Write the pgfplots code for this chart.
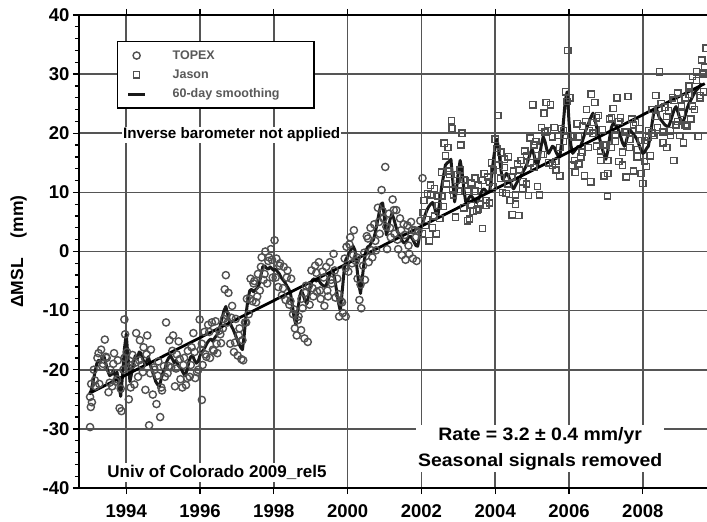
\documentclass[border=0pt]{standalone}
\usepackage{pgfplots}
\pgfplotsset{compat=1.18}
\usepackage{fontspec}
\setmainfont{Liberation Sans}

\definecolor{markgray}{HTML}{505050}
\definecolor{gridgray}{HTML}{555555}

\begin{document}
\begin{tikzpicture}
\begin{axis}[
    name=ax,
    scale only axis,
    width=628pt, height=473pt,
    xmin=1992.72, xmax=2009.74,
    ymin=-40, ymax=40,
    xtick={1994,1996,...,2008},
    ytick={-40,-30,...,40},
    minor x tick num=3,
    minor y tick num=4,
    axis x line*=box,
    axis y line*=left,
    tick align=outside,
    major tick length=6pt,
    minor tick length=4pt,
    tick style={black, line width=1.3pt},
    axis line style={line width=1.8pt},
    grid=major,
    grid style={draw=gridgray, line width=1.7pt},
    /pgf/number format/assume math mode=true,
    /pgf/number format/set thousands separator={},
    tick label style={font=\fontsize{18.5}{20}\selectfont\bfseries},
    xticklabel style={yshift=-7pt},
    ylabel={\bfseries ΔMSL\hspace{20pt}(mm)},
    ylabel style={font=\fontsize{17.5}{19}\selectfont, yshift=9pt},
    legend style={
        at={(0.06,0.946)}, anchor=north west,
        draw=black, line width=1.8pt, fill=white,
        font=\fontsize{12.5}{14}\selectfont\bfseries\color{black!65},
        row sep=5pt, inner xsep=9pt, inner ysep=7pt,
        /tikz/every odd column/.append style={column sep=24pt},
    },
    legend cell align=left,
]

% TOPEX
\addplot[only marks, mark=o, mark size=3.6pt,
    mark options={draw=markgray, line width=1.4pt}]
coordinates {
(1993.02,-24.6) (1993.04,-26.3) (1993.02,-29.7) (1993.07,-25.5) (1993.12,-20.0)
(1993.17,-22.8) (1993.22,-18.0) (1993.27,-22.4) (1993.32,-16.6) (1993.37,-19.0)
(1993.42,-14.9) (1993.47,-18.0) (1993.52,-23.8) (1993.57,-20.0) (1993.62,-22.8)
(1993.67,-17.2) (1993.72,-22.0) (1993.77,-18.4) (1993.82,-26.5) (1993.87,-27.0)
(1993.92,-20.0) (1993.95,-11.5) (1993.97,-14.0) (1994.02,-17.0) (1994.07,-25.0)
(1994.12,-23.0) (1994.17,-17.5) (1994.22,-22.5) (1994.27,-13.8) (1994.32,-21.2)
(1994.37,-15.0) (1994.42,-19.2) (1994.47,-16.2) (1994.52,-23.4) (1994.57,-14.2)
(1994.62,-29.4) (1994.67,-16.6) (1994.72,-24.2) (1994.77,-20.0) (1994.82,-25.8)
(1994.87,-18.6) (1994.92,-28.0) (1994.97,-23.5) (1995.02,-19.4) (1995.08,-12.0)
(1995.12,-20.6) (1995.17,-15.0) (1995.22,-19.6) (1995.27,-14.2) (1995.32,-22.8)
(1995.37,-17.4) (1995.42,-15.2) (1995.47,-21.6) (1995.52,-23.0) (1995.57,-18.0)
(1995.62,-22.6) (1995.67,-16.8) (1995.72,-21.2) (1995.77,-16.2) (1995.82,-13.8)
(1995.87,-21.4) (1995.92,-20.4) (1995.99,-11.5) (1996.02,-16.6) (1996.05,-25.1)
(1996.07,-19.2) (1996.12,-13.6) (1996.17,-17.8) (1996.22,-12.4) (1996.27,-18.0)
(1996.32,-12.0) (1996.37,-16.8) (1996.42,-11.8) (1996.47,-17.2) (1996.52,-13.4)
(1996.57,-15.5) (1996.62,-13.0) (1996.67,-6.4) (1996.70,-4.0) (1996.72,-10.8)
(1996.77,-7.0) (1996.82,-15.6) (1996.87,-9.2) (1996.92,-17.0) (1996.97,-11.4)
(1997.02,-17.6) (1997.07,-13.0) (1997.12,-18.2) (1997.17,-18.4) (1997.22,-12.0)
(1997.27,-8.0) (1997.32,-10.6) (1997.37,-4.6) (1997.42,-8.4) (1997.47,-5.0)
(1997.52,-8.6) (1997.57,-3.8) (1997.62,-6.6) (1997.67,-1.0) (1997.72,-4.8)
(1997.77,0.0) (1997.82,-5.4) (1997.87,-1.0) (1997.92,0.4) (1997.97,-4.4)
(1998.02,1.9) (1998.07,-1.2) (1998.12,-6.0) (1998.17,-2.0) (1998.22,-7.4)
(1998.27,-2.6) (1998.32,-8.2) (1998.37,-3.2) (1998.42,-9.0) (1998.47,-4.6)
(1998.52,-10.6) (1998.57,-13.0) (1998.62,-14.2) (1998.67,-11.0) (1998.74,-13.3)
(1998.78,-9.6) (1998.83,-14.7) (1998.87,-5.8) (1998.92,-15.3) (1998.97,-9.0)
(1999.02,-3.2) (1999.07,-7.6) (1999.12,-2.4) (1999.17,-6.8) (1999.22,-1.8)
(1999.27,-8.0) (1999.32,-3.4) (1999.37,-9.2) (1999.42,-2.6) (1999.47,-7.6)
(1999.52,-1.8) (1999.57,-5.4) (1999.62,-0.4) (1999.67,-7.8) (1999.72,-4.6)
(1999.77,-11.0) (1999.82,-8.4) (1999.87,-10.4) (1999.92,-1.2) (1999.95,-11.0)
(1999.97,0.8) (2000.02,-3.4) (2000.07,2.4) (2000.12,-2.0) (2000.17,3.6)
(2000.22,-1.6) (2000.27,-4.6) (2000.32,-8.2) (2000.37,-9.6) (2000.42,-2.4)
(2000.47,-4.8) (2000.52,2.6) (2000.57,-1.8) (2000.62,4.0) (2000.67,-1.0)
(2000.72,4.6) (2000.77,0.2) (2000.82,7.4) (2000.87,3.0) (2000.92,10.4)
(2001.02,14.3) (2000.97,5.6) (2001.07,0.4) (2001.12,6.4) (2001.17,2.4)
(2001.22,8.8) (2001.27,3.0) (2001.32,7.0) (2001.37,0.4) (2001.42,5.6)
(2001.47,-0.6) (2001.52,4.6) (2001.57,-1.4) (2001.62,4.4) (2001.67,-0.4)
(2001.72,5.0) (2001.77,-1.2) (2001.82,3.6) (2001.87,-1.6) (2001.92,3.4)
(2001.97,5.2) (2002.03,12.4)
(1993.05,-22.4) (1993.15,-21.8) (1993.25,-17.2) (1993.35,-19.4) (1993.45,-17.8)
(1993.55,-22.2) (1993.65,-19.0) (1993.75,-21.6) (1993.85,-23.2) (1993.95,-18.0)
(1994.05,-19.6) (1994.15,-19.2) (1994.25,-18.8) (1994.35,-18.4) (1994.45,-20.4)
(1994.55,-17.4) (1994.65,-20.6) (1994.75,-19.6) (1994.85,-21.0) (1994.95,-23.0)
(1995.05,-21.2) (1995.15,-19.4) (1995.25,-16.8) (1995.35,-19.8) (1995.45,-18.2)
(1995.55,-19.2) (1995.65,-21.4) (1995.75,-19.2) (1995.85,-17.0) (1995.95,-20.0)
(1996.05,-15.6) (1996.15,-17.4) (1996.25,-13.6) (1996.35,-16.6) (1996.45,-15.6)
(1996.55,-14.0) (1996.65,-11.4) (1996.75,-12.0) (1996.85,-11.2) (1996.95,-15.4)
(1997.05,-14.2) (1997.15,-15.0) (1997.25,-12.0) (1997.35,-8.0) (1997.45,-5.4)
(1997.55,-7.6) (1997.65,-2.6) (1997.75,-3.8) (1997.85,-1.6) (1997.95,-1.4)
(1998.05,-4.4) (1998.15,-2.4) (1998.25,-6.2) (1998.35,-4.4) (1998.45,-8.4)
(1998.55,-9.8) (1998.65,-11.6) (1998.75,-8.0) (1998.85,-7.0) (1998.95,-5.8)
(1999.05,-6.2) (1999.15,-3.6) (1999.25,-6.6) (1999.35,-4.4) (1999.45,-6.6)
(1999.55,-4.8) (1999.65,-3.2) (1999.75,-7.2) (1999.85,-8.6) (1999.95,-2.8)
(2000.05,1.2) (2000.15,-0.6) (2000.25,-1.0) (2000.35,-5.6) (2000.45,-0.2)
(2000.55,2.2) (2000.65,0.2) (2000.75,1.8) (2000.85,5.0) (2000.95,6.8)
(2001.05,4.2) (2001.15,4.0) (2001.25,7.0) (2001.35,2.0) (2001.45,3.6)
(2001.55,2.8) (2001.65,1.0) (2001.75,3.6) (2001.85,2.4)
};
\addlegendentry{\makebox[130pt][l]{TOPEX}}

% Jason
\addplot[only marks, mark=square, mark size=3.1pt,
    mark options={draw=markgray, line width=1.4pt}]
coordinates {
(2002.02,3.0) (2002.07,8.6) (2002.12,4.4) (2002.17,9.8) (2002.21,1.8)
(2002.25,11.2) (2002.30,4.0) (2002.35,10.6) (2002.40,3.0) (2002.45,9.4)
(2002.50,5.6) (2002.55,13.4) (2002.60,7.6) (2002.62,18.3) (2002.67,11.4)
(2002.72,17.6) (2002.77,13.0) (2002.81,22.1) (2002.83,20.8) (2002.87,9.6)
(2002.92,5.8) (2002.97,13.0) (2003.02,10.2) (2003.07,18.0) (2003.10,20.0)
(2003.15,7.4) (2003.20,12.0) (2003.25,5.2) (2003.30,5.5) (2003.35,11.6)
(2003.40,6.8) (2003.45,12.4) (2003.50,7.0) (2003.55,11.2) (2003.60,8.0)
(2003.66,3.9) (2003.70,13.2) (2003.75,7.8) (2003.80,12.6) (2003.85,8.2)
(2003.90,15.0) (2003.95,11.0) (2004.00,19.0) (2004.07,23.0) (2004.10,14.6)
(2004.15,16.8) (2004.20,10.0) (2004.25,15.6) (2004.30,9.8) (2004.35,16.0)
(2004.40,8.6) (2004.46,6.2) (2004.50,13.6) (2004.55,8.0) (2004.60,14.8)
(2004.64,6.1) (2004.70,15.4) (2004.75,10.6) (2004.80,17.0) (2004.85,11.4)
(2004.90,9.5) (2004.95,19.2) (2005.02,24.8) (2005.05,14.2) (2005.10,18.6)
(2005.15,11.0) (2005.20,9.6) (2005.25,21.0) (2005.30,16.4) (2005.32,23.4)
(2005.38,25.2) (2005.42,20.4) (2005.50,24.8) (2005.55,14.6) (2005.60,21.0)
(2005.65,13.8) (2005.70,19.6) (2005.75,12.8) (2005.80,20.8) (2005.85,18.6)
(2005.90,27.0) (2005.97,34.0) (2006.02,26.0) (2006.07,14.6) (2006.12,19.4)
(2006.17,13.4) (2006.22,21.6) (2006.27,14.8) (2006.32,16.0) (2006.37,21.2)
(2006.42,12.8) (2006.47,24.0) (2006.52,17.6) (2006.59,11.8) (2006.60,26.6)
(2006.65,20.0) (2006.70,25.2) (2006.75,17.8) (2006.80,23.0) (2006.85,15.4)
(2006.90,20.6) (2006.95,12.8) (2007.04,9.4) (2007.00,18.0) (2007.05,13.2)
(2007.10,22.4) (2007.15,17.6) (2007.20,24.2) (2007.25,18.6) (2007.30,26.0)
(2007.35,15.2) (2007.40,22.6) (2007.45,14.6) (2007.50,20.2) (2007.55,12.6)
(2007.60,26.2) (2007.65,17.6) (2007.70,22.4) (2007.75,13.6) (2007.80,21.8)
(2007.85,16.0) (2007.90,20.8) (2007.95,13.2) (2008.00,11.5) (2008.05,18.8)
(2008.10,14.4) (2008.15,20.4) (2008.20,16.2) (2008.25,24.0) (2008.30,19.6)
(2008.35,26.4) (2008.40,21.0) (2008.45,30.4) (2008.50,25.0) (2008.55,18.4)
(2008.60,24.4) (2008.65,17.6) (2008.70,23.8) (2008.75,19.6) (2008.80,26.0)
(2008.84,15.4) (2008.90,21.4) (2008.95,26.8) (2009.00,19.6) (2009.05,24.6)
(2009.10,18.4) (2009.15,26.0) (2009.20,21.2) (2009.25,28.0) (2009.30,22.4)
(2009.35,29.6) (2009.40,24.0) (2009.45,30.4) (2009.50,19.5) (2009.55,26.0)
(2009.60,32.4) (2009.62,30.2) (2009.65,27.0) (2009.68,31.2) (2009.72,34.4)
(2002.05,6.6) (2002.15,5.4) (2002.25,9.6) (2002.35,6.0) (2002.45,7.8)
(2002.55,9.4) (2002.65,16.2) (2002.75,13.6) (2002.85,10.4) (2002.95,12.0)
(2003.05,13.8) (2003.15,12.2) (2003.25,10.2) (2003.35,7.8) (2003.45,10.2)
(2003.55,7.2) (2003.65,12.0) (2003.75,8.6) (2003.85,11.8) (2003.95,13.8)
(2004.05,17.4) (2004.15,12.4) (2004.25,14.2) (2004.35,11.4) (2004.45,12.6)
(2004.55,9.6) (2004.65,13.8) (2004.75,11.8) (2004.85,16.2) (2004.95,15.0)
(2005.05,18.0) (2005.15,16.2) (2005.25,16.4) (2005.35,20.2) (2005.45,15.0)
(2005.55,19.4) (2005.65,15.2) (2005.75,17.6) (2005.85,20.4) (2005.95,25.4)
(2006.05,19.6) (2006.15,15.4) (2006.25,19.4) (2006.35,16.8) (2006.45,22.0)
(2006.55,20.4) (2006.65,21.8) (2006.75,22.6) (2006.85,17.0) (2006.95,18.0)
(2007.05,15.4) (2007.15,22.6) (2007.25,19.8) (2007.35,22.0) (2007.45,16.8)
(2007.55,20.2) (2007.65,19.0) (2007.75,21.4) (2007.85,17.2) (2007.95,18.8)
(2008.05,15.2) (2008.15,19.4) (2008.25,20.0) (2008.35,22.9) (2008.45,24.2)
(2008.55,20.2) (2008.65,22.8) (2008.75,20.4) (2008.85,25.6) (2008.95,22.0)
(2009.05,23.4) (2009.15,21.4) (2009.25,26.6) (2009.35,24.6) (2009.45,28.9)
(2009.55,26.4) (2009.65,30.0)
};
\addlegendentry{\makebox[130pt][l]{Jason}}

% 60-day smoothing
\addplot[black!90, line width=3pt, line join=round, mark=none]
coordinates {
(1993.00,-24.2) (1993.05,-23.5) (1993.10,-22.0) (1993.15,-20.5) (1993.20,-19.0)
(1993.25,-18.4) (1993.30,-18.6) (1993.35,-18.0) (1993.40,-17.8) (1993.45,-19.0)
(1993.50,-20.2) (1993.55,-21.0) (1993.60,-20.8) (1993.65,-20.2) (1993.70,-21.0)
(1993.75,-20.4) (1993.80,-22.5) (1993.85,-24.5) (1993.90,-21.0) (1993.95,-16.5)
(1994.00,-14.0) (1994.05,-18.0) (1994.10,-22.0) (1994.15,-20.5) (1994.20,-18.5)
(1994.25,-17.6) (1994.30,-18.2) (1994.35,-17.0) (1994.40,-17.2) (1994.45,-18.2)
(1994.50,-19.0) (1994.55,-18.6) (1994.60,-17.8) (1994.65,-19.0) (1994.70,-20.2)
(1994.75,-21.0) (1994.80,-22.0) (1994.85,-22.5) (1994.90,-22.8) (1994.95,-21.5)
(1995.00,-20.4) (1995.05,-19.8) (1995.10,-18.6) (1995.15,-18.0) (1995.20,-17.6)
(1995.25,-18.2) (1995.30,-18.8) (1995.35,-18.4) (1995.40,-19.2) (1995.45,-19.6)
(1995.50,-20.0) (1995.55,-20.6) (1995.60,-21.0) (1995.65,-20.0) (1995.70,-18.6)
(1995.75,-17.8) (1995.80,-17.6) (1995.85,-18.4) (1995.90,-18.9) (1995.95,-18.6)
(1996.00,-17.6) (1996.05,-17.0) (1996.10,-16.6) (1996.15,-16.0) (1996.20,-15.4)
(1996.25,-15.0) (1996.30,-14.8) (1996.35,-15.2) (1996.40,-14.6) (1996.45,-14.2)
(1996.50,-13.6) (1996.55,-12.5) (1996.60,-11.2) (1996.65,-10.0) (1996.70,-9.3)
(1996.75,-10.6) (1996.80,-11.8) (1996.85,-12.6) (1996.90,-13.2) (1996.95,-14.0)
(1997.00,-14.8) (1997.05,-15.6) (1997.10,-16.2) (1997.15,-16.6) (1997.20,-14.0)
(1997.25,-10.5) (1997.30,-8.0) (1997.35,-6.6) (1997.40,-6.4) (1997.45,-6.8)
(1997.50,-6.5) (1997.55,-6.2) (1997.60,-5.6) (1997.65,-4.0) (1997.70,-2.6)
(1997.75,-2.4) (1997.80,-2.8) (1997.85,-3.0) (1997.90,-2.6) (1997.95,-2.9)
(1998.00,-3.2) (1998.05,-3.0) (1998.10,-3.4) (1998.15,-3.8) (1998.20,-4.4)
(1998.25,-4.8) (1998.30,-5.2) (1998.35,-5.8) (1998.40,-6.3) (1998.45,-7.0)
(1998.50,-9.0) (1998.55,-11.2) (1998.60,-12.4) (1998.65,-10.0) (1998.70,-7.6)
(1998.75,-6.6) (1998.80,-7.4) (1998.85,-8.4) (1998.90,-8.8) (1998.95,-7.2)
(1999.00,-5.6) (1999.05,-4.8) (1999.10,-4.6) (1999.15,-5.0) (1999.20,-4.6)
(1999.25,-5.2) (1999.30,-5.6) (1999.35,-5.8) (1999.40,-6.0) (1999.45,-5.2)
(1999.50,-4.2) (1999.55,-3.4) (1999.60,-3.1) (1999.65,-4.6) (1999.70,-6.6)
(1999.75,-8.6) (1999.80,-10.0) (1999.85,-7.0) (1999.90,-3.6) (1999.95,-1.4)
(2000.00,-0.8) (2000.05,-0.2) (2000.10,0.4) (2000.15,0.9) (2000.20,0.2)
(2000.25,-2.6) (2000.30,-5.4) (2000.35,-7.1) (2000.40,-4.4) (2000.45,-1.6)
(2000.50,0.2) (2000.55,0.8) (2000.60,1.0) (2000.65,1.6) (2000.70,2.0)
(2000.75,3.2) (2000.80,4.8) (2000.85,6.4) (2000.90,8.0) (2000.95,8.2)
(2001.00,5.6) (2001.05,2.8) (2001.10,3.8) (2001.15,5.4) (2001.20,6.4)
(2001.25,5.6) (2001.30,4.4) (2001.35,3.4) (2001.40,2.8) (2001.45,2.2)
(2001.50,1.6) (2001.55,1.4) (2001.60,1.8) (2001.65,2.4) (2001.70,2.6)
(2001.75,2.2) (2001.80,1.6) (2001.85,1.0) (2001.90,0.9) (2001.95,2.6)
(2002.00,4.2) (2002.05,5.0) (2002.10,6.2) (2002.15,7.0) (2002.20,7.6)
(2002.25,8.0) (2002.30,8.3) (2002.35,7.6) (2002.40,6.4) (2002.45,6.2)
(2002.50,8.6) (2002.55,11.0) (2002.60,12.8) (2002.65,14.6) (2002.70,15.0)
(2002.75,15.2) (2002.80,15.6) (2002.85,12.0) (2002.90,8.4) (2002.95,10.4)
(2003.00,13.4) (2003.05,15.4) (2003.10,13.6) (2003.15,10.6) (2003.20,8.4)
(2003.25,8.6) (2003.30,9.2) (2003.35,9.4) (2003.40,9.0) (2003.45,8.6)
(2003.50,8.3) (2003.55,8.8) (2003.60,9.6) (2003.65,10.4) (2003.70,10.6)
(2003.75,10.2) (2003.80,10.0) (2003.85,10.2) (2003.90,12.6) (2003.95,15.4)
(2004.00,17.8) (2004.05,19.0) (2004.10,17.0) (2004.15,14.0) (2004.20,12.2)
(2004.25,12.6) (2004.30,13.2) (2004.35,13.0) (2004.40,12.0) (2004.45,11.0)
(2004.50,10.6) (2004.55,11.2) (2004.60,11.8) (2004.65,12.2) (2004.70,12.8)
(2004.75,13.4) (2004.80,14.0) (2004.85,14.6) (2004.90,15.6) (2004.95,16.6)
(2005.00,17.3) (2005.05,16.4) (2005.10,15.0) (2005.15,14.6) (2005.20,16.0)
(2005.25,18.0) (2005.30,19.4) (2005.35,18.6) (2005.40,17.2) (2005.45,16.6)
(2005.50,17.2) (2005.55,17.8) (2005.60,17.6) (2005.65,16.8) (2005.70,16.2)
(2005.75,16.0) (2005.80,18.4) (2005.85,22.0) (2005.90,25.6) (2005.95,27.0)
(2006.00,22.0) (2006.05,18.0) (2006.10,16.6) (2006.15,17.0) (2006.20,17.4)
(2006.25,17.8) (2006.30,17.6) (2006.35,18.4) (2006.40,19.4) (2006.45,20.4)
(2006.50,21.2) (2006.55,22.0) (2006.60,22.8) (2006.65,23.4) (2006.70,22.4)
(2006.75,21.0) (2006.80,19.8) (2006.85,18.6) (2006.90,17.4) (2006.95,16.4)
(2007.00,15.6) (2007.05,17.0) (2007.10,19.2) (2007.15,21.0) (2007.20,21.7)
(2007.25,21.4) (2007.30,21.1) (2007.35,20.4) (2007.40,19.4) (2007.45,18.4)
(2007.50,17.8) (2007.55,18.6) (2007.60,19.8) (2007.65,20.6) (2007.70,20.2)
(2007.75,19.8) (2007.80,19.4) (2007.85,18.8) (2007.90,18.0) (2007.95,17.2)
(2008.00,16.6) (2008.05,16.8) (2008.10,17.4) (2008.15,17.8) (2008.20,19.4)
(2008.25,21.6) (2008.30,23.6) (2008.35,24.5) (2008.40,23.6) (2008.45,22.6)
(2008.50,22.2) (2008.55,21.8) (2008.60,21.4) (2008.65,21.2) (2008.70,21.1)
(2008.75,22.0) (2008.80,23.0) (2008.85,24.0) (2008.90,24.5) (2008.95,23.6)
(2009.00,22.6) (2009.05,21.8) (2009.10,22.0) (2009.15,23.0) (2009.20,24.2)
(2009.25,25.0) (2009.30,25.6) (2009.35,26.2) (2009.40,26.8) (2009.45,27.3)
(2009.50,27.6) (2009.55,28.0) (2009.60,28.4)
};
\addlegendentry{\makebox[130pt][l]{60-day smoothing}}

% linear trend
\addplot[black, line width=2.8pt, forget plot]
coordinates {(1993.00,-24.0) (2009.68,28.4)};

\node[fill=white, inner sep=1pt, font=\fontsize{15.2}{18}\selectfont\bfseries]
    at (axis cs:1996.86,19.7) {Inverse barometer not applied};
\node[fill=white, inner sep=2pt, font=\fontsize{17}{20}\selectfont\bfseries]
    at (axis cs:1996.46,-37.4) {Univ of Colorado 2009\_rel5};
\node[fill=white, inner sep=2pt, align=center,
    font=\fontsize{18}{26}\selectfont\bfseries]
    at (axis cs:2005.22,-33.3)
    {\scalebox{1.08}[1]{Rate = 3.2 ± 0.4 mm/yr}\\\scalebox{1.08}[1]{Seasonal signals removed}};
\end{axis}
\pgfresetboundingbox
\path ([shift={(-79pt,-34pt)}]ax.south west) rectangle ([shift={(0pt,15pt)}]ax.north east);
\end{tikzpicture}
\end{document}
